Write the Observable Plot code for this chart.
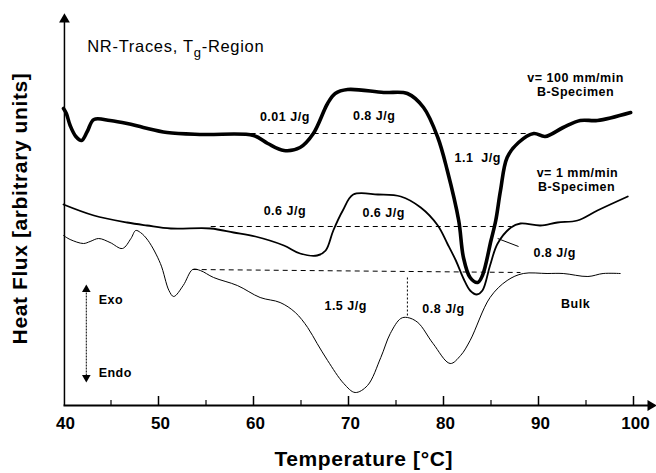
<!DOCTYPE html>
<html>
<head>
<meta charset="utf-8">
<script src="https://cdn.jsdelivr.net/npm/d3@7"></script>
<script src="https://cdn.jsdelivr.net/npm/@observablehq/plot@0.6"></script>
<style>
  html, body { margin: 0; padding: 0; background: #fff; }
  #chart { width: 656px; height: 473px; }
</style>
</head>
<body>
<div id="chart"></div>
<script>
// Temperature [°C] and heat flux (arbitrary units)
const thickT = [40.0,40.3,40.7,41.3,41.9,42.5,43.2,44.9,46.7,48.4,50.9,54.7,60.0,61.5,63.2,64.9,66.3,67.8,68.6,69.9,73.7,76.2,77.9,79.4,80.4,81.6,82.1,82.8,83.6,84.1,85.0,85.5,86.0,86.7,87.9,89.5,90.7,92.6,94.4,96.2,99.7];
const thickY = [29.7,29.2,28.0,26.9,26.5,27.4,28.6,28.5,28.2,27.8,27.3,27.1,27.0,26.2,25.5,25.8,27.2,30.2,31.2,31.6,31.3,31.2,29.8,26.8,23.5,18.5,14.8,12.8,12.3,13.0,16.5,18.5,21.5,24.8,26.3,27.2,26.9,27.8,28.5,28.5,29.3];

const medT = [40.0,43.2,46.7,48.8,51.3,55.5,57.9,60.2,63.2,64.9,66.7,67.6,68.4,69.4,70.5,73.1,75.5,77.6,79.4,80.4,81.3,82.1,82.8,83.5,84.1,84.9,85.7,87.1,88.1,90.2,92.0,94.1,96.2,99.4];
const medY = [20.1,19.0,18.3,18.0,17.7,17.7,17.3,16.9,16.0,15.2,15.0,15.5,17.5,19.5,21.1,21.1,20.9,19.8,18.0,16.2,14.5,12.7,11.5,11.1,11.5,14.0,16.2,17.8,18.2,18.0,18.3,18.5,19.5,20.9];

const bulkT = [40.0,40.7,42.1,42.8,43.7,44.9,46.2,47.1,47.6,48.1,48.9,50.2,51.1,51.6,52.6,53.6,54.4,55.8,58.3,60.7,62.8,64.4,65.7,66.7,67.8,69.5,70.7,72.0,73.4,74.4,75.5,76.2,77.3,78.9,80.7,81.8,82.8,84.9,86.7,88.4,90.9,92.6,95.2,96.8,98.6];
const bulkY = [17.0,16.6,16.2,16.4,16.7,16.3,15.7,16.7,17.5,17.3,16.5,14.2,11.5,10.9,12.0,13.6,13.5,12.8,12.0,10.8,10.3,9.3,7.8,6.2,4.5,2.2,1.3,2.0,4.8,7.2,8.7,8.8,8.3,6.2,4.2,5.0,6.5,10.8,12.5,13.2,13.2,13.2,12.9,13.2,13.2];

// Baselines of the peak-area construction
const baseNames = ["thick", "medium", "bulk"];
const baseX1 = [59.7, 55.5, 53.6];
const baseX2 = [89.3, 87.1, 88.1];
const baseY1 = [27.2, 17.9, 13.6];
const baseY2 = [27.2, 17.9, 13.3];

// Tick labels
const xTicks = [40, 50, 60, 70, 80, 90, 100];
const majorTicks = [50, 60, 70, 80, 90, 100];
const minorTicks = [45, 55, 65, 75, 85, 95];

// Annotations
const annText = ["0.01 J/g", "0.8 J/g", "v= 100 mm/min", "B-Specimen", "1.1  J/g", "v= 1 mm/min", "B-Specimen", "0.6 J/g", "0.6 J/g", "0.8 J/g", "1.5 J/g", "0.8 J/g", "Bulk"];
const annX = [63.3, 72.7, 93.9, 93.9, 83.6, 94.1, 94.0, 63.3, 73.7, 91.7, 69.7, 80.0, 93.9];
const annY = [28.9, 29.0, 32.8, 31.4, 24.8, 23.3, 21.9, 19.5, 19.3, 15.3, 10.0, 9.7, 10.2];

const toRows = (T, Y) => T.map((t, i) => ({t, y: Y[i]}));
const thick = toRows(thickT, thickY);
const med = toRows(medT, medY);
const bulk = toRows(bulkT, bulkY);
const bases = baseNames.map((n, i) => ({n, x1: baseX1[i], x2: baseX2[i], y1: baseY1[i], y2: baseY2[i]}));
const anns = annText.map((text, i) => ({text, x: annX[i], y: annY[i]}));

const font = "'Liberation Sans', Arial, Helvetica, sans-serif";

const chart = Plot.plot({
  width: 656,
  height: 473,
  marginLeft: 63,
  marginRight: 23,
  marginTop: 13,
  marginBottom: 68,
  x: {domain: [40, 100], axis: null},
  y: {domain: [0, 39.2], axis: null},
  style: {fontFamily: font, background: "white", color: "black"},
  marks: [
    // dashed baselines
    Plot.link(bases, {x1: "x1", x2: "x2", y1: "y1", y2: "y2", stroke: "black", strokeWidth: 1, strokeDasharray: "5,4"}),
    Plot.link([{x: 76.2, y1: 12.8, y2: 8.8}], {x1: "x", x2: "x", y1: "y1", y2: "y2", stroke: "black", strokeWidth: 1, strokeDasharray: "2,2"}),
    // leader line for 0.8 J/g
    Plot.link([{x1: 85.7, y1: 16.7, x2: 87.9, y2: 15.9}], {x1: "x1", x2: "x2", y1: "y1", y2: "y2", stroke: "black", strokeWidth: 1}),
    // curves
    Plot.line(bulk, {x: "t", y: "y", stroke: "black", strokeWidth: 1, curve: "catmull-rom"}),
    Plot.line(med, {x: "t", y: "y", stroke: "black", strokeWidth: 1.8, curve: "catmull-rom"}),
    Plot.line(thick, {x: "t", y: "y", stroke: "black", strokeWidth: 3.6, curve: "catmull-rom"}),
    // axes
    Plot.link([{x1: 40, x2: 101.8, y1: 0, y2: 0}], {x1: "x1", x2: "x2", y1: "y1", y2: "y2", stroke: "black", strokeWidth: 2}),
    Plot.link([{x1: 40.1, x2: 40.1, y1: 0, y2: 38.6}], {x1: "x1", x2: "x2", y1: "y1", y2: "y2", stroke: "black", strokeWidth: 1.5}),
    Plot.dot([{x: 101.8, y: 0}], {x: "x", y: "y", symbol: "triangle", r: 4, fill: "black", stroke: null, rotate: 90}),
    Plot.dot([{x: 40.1, y: 38.6}], {x: "x", y: "y", symbol: "triangle", r: 4, fill: "black", stroke: null}),
    Plot.ruleX(majorTicks, {x: d => d, y1: 0, y2: 0.9, stroke: "black", strokeWidth: 1.5}),
    Plot.ruleX(minorTicks, {x: d => d, y1: 0, y2: 0.5, stroke: "black", strokeWidth: 1.2}),
    Plot.text(xTicks, {x: d => d, y: -1.8, text: d => String(d), dx: 2, fontSize: 17, fontWeight: "bold", fill: "black"}),
    // axis titles
    Plot.text(["Temperature [°C]"], {x: 71.6, y: -5.4, text: d => d, fontSize: 21, fontWeight: "bold", fill: "black"}),
    Plot.text(["Heat Flux [arbitrary units]"], {x: 35.4, y: 19.7, text: d => d, rotate: -90, fontSize: 21, fontWeight: "bold", fill: "black"}),
    // Exo / Endo arrow
    Plot.link([{x: 42.4, y1: 3.0, y2: 11.4}], {x1: "x", x2: "x", y1: "y1", y2: "y2", stroke: "black", strokeWidth: 1, strokeDasharray: "2,1"}),
    Plot.dot([{x: 42.4, y: 11.6}], {x: "x", y: "y", symbol: "triangle", r: 3.2, fill: "black", stroke: null}),
    Plot.dot([{x: 42.4, y: 2.8}], {x: "x", y: "y", symbol: "triangle", r: 3.2, fill: "black", stroke: null, rotate: 180}),
    Plot.text(["Exo", "Endo"], {x: 43.7, y: [10.6, 3.3], text: d => d, textAnchor: "start", fontSize: 12.5, fontWeight: "bold", fill: "black"}),
    // annotations
    Plot.text(anns, {x: "x", y: "y", text: "text", fontSize: 12.5, fontWeight: "bold", fill: "black"}),
    // title
    Plot.text(["NR-Traces, Tg-Region"], {x: 42.5, y: 35.9, text: d => d, textAnchor: "start", fontSize: 16.5, fill: "black"})
  ]
});

document.getElementById("chart").appendChild(chart);

// letter spacing & subscript in the title
const svg = d3.select(chart);
svg.selectAll("text").each(function() {
  const t = d3.select(this);
  const s = this.textContent;
  if (s === "NR-Traces, Tg-Region") {
    t.text(null).attr("letter-spacing", "0.7px");
    t.append("tspan").text("NR-Traces, T");
    t.append("tspan").attr("dy", 5).attr("font-size", 13).text("g");
    t.append("tspan").attr("dy", -5).text("-Region");
  } else if (/J\/g|Specimen|mm\/min|Bulk|Exo|Endo/.test(s)) {
    t.attr("letter-spacing", "0.5px");
  } else if (/Temperature|Heat Flux/.test(s)) {
    t.attr("letter-spacing", "0.6px");
  }
});
</script>
</body>
</html>
